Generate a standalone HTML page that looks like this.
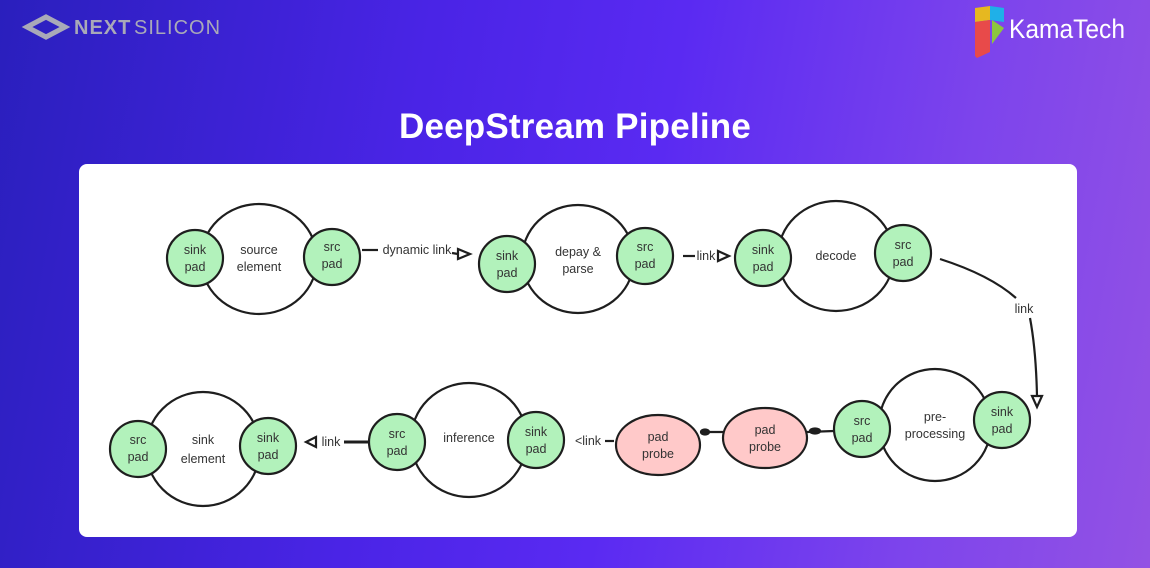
<!DOCTYPE html>
<html><head><meta charset="utf-8"><style>
html,body{margin:0;padding:0;width:1150px;height:568px;overflow:hidden}
body{background:linear-gradient(100deg,#2a1fbd 0%,#4a24e6 35%,#5a2af2 55%,#7d44ec 80%,#9352e4 100%);font-family:"Liberation Sans",sans-serif;position:relative}
.card{position:absolute;left:79px;top:164px;width:998px;height:373px;background:#fff;border-radius:8px}
h1{position:absolute;left:0;width:1150px;top:107px;margin:0;text-align:center;color:#fff;font-size:35px;font-weight:bold;letter-spacing:0.2px}
svg{position:absolute;left:0;top:0}
</style></head><body>
<h1>DeepStream Pipeline</h1>
<div class="card"></div>
<svg width="1150" height="568" viewBox="0 0 1150 568">
<g fill="#a9a9b8">
<polygon points="27,27 46,17 65,27 46,37" fill="none" stroke="#a9a9b8" stroke-width="5"/>
<text x="74" y="34" font-size="20" font-weight="bold" font-family="Liberation Sans" letter-spacing="1">NEXT</text>
<text x="134" y="34" font-size="20" font-family="Liberation Sans" letter-spacing="1">SILICON</text>
</g>
<polygon points="975,8 990,6 990,20 975,22" fill="#e6b820"/>
<polygon points="990,6 1004,8 1004,22 990,20" fill="#1fb0e8"/>
<polygon points="975,22 990,20 990,52 977,58 975,56" fill="#e84a4a"/>
<polygon points="992,20 1004,28 992,44" fill="#8cc63f"/>
<text x="1009" y="38" font-size="27" fill="#fff" font-family="Liberation Sans" textLength="116" lengthAdjust="spacingAndGlyphs">KamaTech</text>

<g stroke="#1e1e1e" stroke-width="2.2" font-family="Liberation Sans" font-size="12.5" fill="#333">
<ellipse cx="259" cy="259" rx="58" ry="55" fill="#fff"/>
<circle cx="195" cy="258" r="28" fill="#b2f2bb"/>
<circle cx="332" cy="257" r="28" fill="#b2f2bb"/>
<ellipse cx="578" cy="259" rx="56" ry="54" fill="#fff"/>
<circle cx="507" cy="264" r="28" fill="#b2f2bb"/>
<circle cx="645" cy="256" r="28" fill="#b2f2bb"/>
<ellipse cx="836" cy="256" rx="58" ry="55" fill="#fff"/>
<circle cx="763" cy="258" r="28" fill="#b2f2bb"/>
<circle cx="903" cy="253" r="28" fill="#b2f2bb"/>
<ellipse cx="935" cy="425" rx="56" ry="56" fill="#fff"/>
<circle cx="1002" cy="420" r="28" fill="#b2f2bb"/>
<circle cx="862" cy="429" r="28" fill="#b2f2bb"/>
<ellipse cx="765" cy="438" rx="42" ry="30" fill="#ffc9c9"/>
<ellipse cx="658" cy="445" rx="42" ry="30" fill="#ffc9c9"/>
<ellipse cx="469" cy="440" rx="58" ry="57" fill="#fff"/>
<circle cx="536" cy="440" r="28" fill="#b2f2bb"/>
<circle cx="397" cy="442" r="28" fill="#b2f2bb"/>
<ellipse cx="203" cy="449" rx="57" ry="57" fill="#fff"/>
<circle cx="138" cy="449" r="28" fill="#b2f2bb"/>
<circle cx="268" cy="446" r="28" fill="#b2f2bb"/>

<line x1="362" y1="250" x2="378" y2="250"/>
<line x1="452" y1="253" x2="458" y2="254"/>
<polygon points="458,249 470,254 458,259" fill="#fff"/>
<line x1="683" y1="256" x2="695" y2="256"/>
<polygon points="718,251 729,256 718,261" fill="#fff"/>
<path d="M940,259 Q990,275 1016,298" fill="none"/>
<path d="M1030,318 Q1036,350 1037,396" fill="none"/>
<polygon points="1032,396 1042,396 1037,407" fill="#fff"/>
<line x1="807" y1="432" x2="834" y2="431"/>
<ellipse cx="815" cy="431" rx="5" ry="2.5" fill="#1e1e1e"/>
<line x1="700" y1="432" x2="723" y2="432"/>
<ellipse cx="705" cy="432" rx="4" ry="2.5" fill="#1e1e1e"/>
<line x1="605" y1="441" x2="614" y2="441"/>
<line x1="344" y1="442" x2="369" y2="442" stroke-width="3"/>
<polygon points="316,437 306,442 316,447" fill="#fff"/>
</g>
<g font-family="Liberation Sans" font-size="12.5" fill="#333" text-anchor="middle">
<text x="195" y="254">sink</text><text x="195" y="271">pad</text>
<text x="259" y="254">source</text><text x="259" y="271">element</text>
<text x="332" y="251">src</text><text x="332" y="268">pad</text>
<text x="417" y="254">dynamic link</text>
<text x="507" y="260">sink</text><text x="507" y="277">pad</text>
<text x="578" y="256">depay &amp;</text><text x="578" y="273">parse</text>
<text x="645" y="251">src</text><text x="645" y="268">pad</text>
<text x="706" y="260">link</text>
<text x="763" y="254">sink</text><text x="763" y="271">pad</text>
<text x="836" y="260">decode</text>
<text x="903" y="249">src</text><text x="903" y="266">pad</text>
<text x="1024" y="313">link</text>
<text x="1002" y="416">sink</text><text x="1002" y="433">pad</text>
<text x="935" y="421">pre-</text><text x="935" y="438">processing</text>
<text x="862" y="425">src</text><text x="862" y="442">pad</text>
<text x="765" y="434">pad</text><text x="765" y="451">probe</text>
<text x="658" y="441">pad</text><text x="658" y="458">probe</text>
<text x="588" y="445">&lt;link</text>
<text x="536" y="436">sink</text><text x="536" y="453">pad</text>
<text x="469" y="442">inference</text>
<text x="397" y="438">src</text><text x="397" y="455">pad</text>
<text x="331" y="446">link</text>
<text x="268" y="442">sink</text><text x="268" y="459">pad</text>
<text x="203" y="444">sink</text><text x="203" y="463">element</text>
<text x="138" y="444">src</text><text x="138" y="461">pad</text>
</g>
</svg>
</body></html>
